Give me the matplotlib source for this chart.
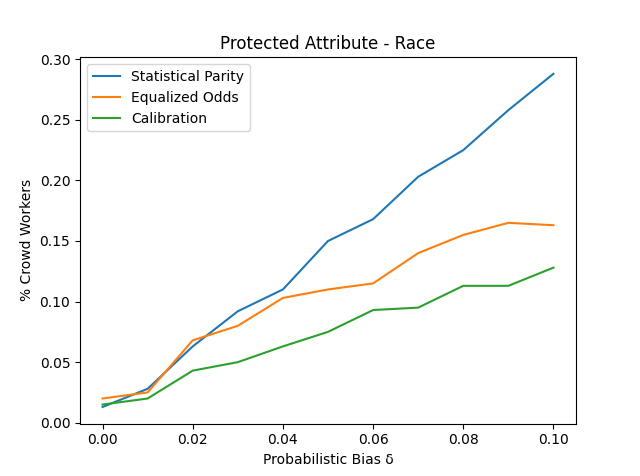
import matplotlib
matplotlib.use("Agg")
import matplotlib.pyplot as plt

bias = [0.00, 0.01, 0.02, 0.03, 0.04, 0.05, 0.06, 0.07, 0.08, 0.09, 0.10]
statistical_parity = [0.013, 0.028, 0.063, 0.092, 0.110, 0.150, 0.168, 0.203, 0.225, 0.258, 0.288]
equalized_odds = [0.020, 0.025, 0.068, 0.080, 0.103, 0.110, 0.115, 0.140, 0.155, 0.165, 0.163]
calibration = [0.015, 0.020, 0.043, 0.050, 0.063, 0.075, 0.093, 0.095, 0.113, 0.113, 0.128]

fig, ax = plt.subplots(figsize=(6.4, 4.76), dpi=100)
ax.plot(bias, statistical_parity, label="Statistical Parity")
ax.plot(bias, equalized_odds, label="Equalized Odds")
ax.plot(bias, calibration, label="Calibration")
ax.set_title("Protected Attribute - Race")
ax.set_xlabel("Probabilistic Bias δ")
ax.set_ylabel("% Crowd Workers")
ax.legend(loc="upper left")
fig.savefig("out.png", dpi=100)
